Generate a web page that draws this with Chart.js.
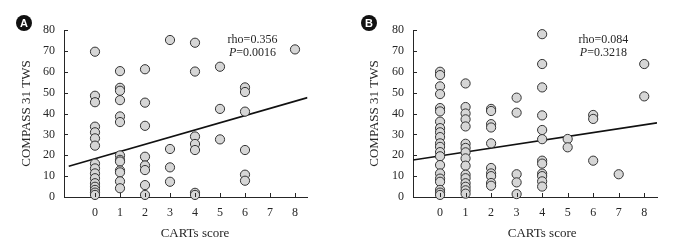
<!DOCTYPE html>
<html>
<head>
<meta charset="utf-8">
<script src="https://cdn.jsdelivr.net/npm/chart.js@4.4.1/dist/chart.umd.min.js"></script>
<style>
  html, body { margin: 0; padding: 0; background: #fff; }
  .panel { position: absolute; top: 0; width: 338px; height: 251px; }
</style>
</head>
<body>
<div class="panel" style="left:0"><canvas id="chartA" width="338" height="251"></canvas></div>
<div class="panel" style="left:338px"><canvas id="chartB" width="338" height="251"></canvas></div>
<script>
// CARTs score categories and tick labels
const xTicks = [0, 1, 2, 3, 4, 5, 6, 7, 8];
const yTicks = [0, 10, 20, 30, 40, 50, 60, 70, 80];

// Panel A: COMPASS 31 TWS values per CARTs score
const scoresA = [0, 1, 2, 3, 4, 5, 6, 8];
const twsA = [
  [69.6, 48.5, 45.4, 33.7, 31, 28.1, 24.6, 16, 13.7, 11.3, 9, 6.6, 4.9, 3.4, 2.1, 1],
  [60.3, 52.3, 50.9, 46.4, 38.6, 35.9, 19.9, 17.8, 17, 12.7, 11.8, 7.5, 4.2],
  [61.2, 45.2, 34.1, 19.3, 15.1, 12.9, 5.7, 1],
  [75.2, 23, 14.2, 7.3],
  [73.9, 60.1, 29, 25.4, 22.5, 2, 1],
  [62.4, 42.2, 27.6],
  [52.5, 50.3, 40.9, 22.5, 10.7, 7.8],
  [70.7]
];
const trendA = [[-1.05, 14.7], [8.5, 47.6]];

// Panel B
const scoresB = [0, 1, 2, 3, 4, 5, 6, 7, 8];
const twsB = [
  [60, 58.4, 53, 49.3, 42.6, 41, 36.1, 33, 31, 28.7, 25.7, 24, 21.5, 19.5, 15.3, 11.3, 8.8, 7.3, 3.4, 2.1, 1],
  [54.4, 43.1, 40, 37.2, 33.8, 25.5, 23.5, 21.4, 18.5, 15, 10.7, 9, 6.6, 4.9, 3.2, 1.6],
  [42.2, 41.2, 34.9, 33.3, 25.7, 13.9, 11.3, 10, 6.7, 5.4],
  [47.6, 40.4, 10.9, 7, 1.4],
  [78, 63.7, 52.5, 39.1, 32.1, 27.7, 17.4, 16, 11.2, 10, 7.5, 5],
  [27.8, 23.8],
  [39.3, 37.4, 17.4],
  [10.9],
  [63.7, 48.2]
];
const trendB = [[-1.06, 17.7], [8.5, 35.5]];

const ink = '#262626';
const serif = '"Liberation Serif", "DejaVu Serif", serif';

// inward tick marks, axis titles, panel letter and rho/P text
const decor = {
  id: 'decor',
  afterDraw(chart, args, o) {
    const { ctx, chartArea: a, scales: { x, y } } = chart;
    ctx.save();
    ctx.strokeStyle = ink;
    ctx.lineWidth = 1;
    ctx.beginPath();
    x.ticks.forEach(t => {
      const px = Math.round(x.getPixelForValue(t.value)) + 0.5;
      ctx.moveTo(px, a.bottom);
      ctx.lineTo(px, a.bottom - 4);
    });
    y.ticks.forEach(t => {
      const py = Math.round(y.getPixelForValue(t.value)) + 0.5;
      ctx.moveTo(a.left, py);
      ctx.lineTo(a.left + 4, py);
    });
    ctx.stroke();

    ctx.fillStyle = ink;
    ctx.font = '13px ' + serif;
    ctx.textAlign = 'center';
    ctx.textBaseline = 'middle';
    ctx.fillText('CARTs score', x.getPixelForValue(4), 234);
    ctx.save();
    ctx.translate(a.left - o.yTitleGap, (a.top + a.bottom) / 2);
    ctx.rotate(-Math.PI / 2);
    ctx.fillText('COMPASS 31 TWS', 0, 0);
    ctx.restore();

    // panel letter
    ctx.beginPath();
    ctx.arc(o.letterX, 23, 8, 0, Math.PI * 2);
    ctx.fillStyle = '#111';
    ctx.fill();
    ctx.fillStyle = '#fff';
    ctx.font = 'bold 11px "Liberation Sans", Arial, sans-serif';
    ctx.fillText(o.letter, o.letterX, 23.5);

    // stats
    ctx.fillStyle = ink;
    ctx.font = '12px ' + serif;
    const cx = x.getPixelForValue(o.statX);
    ctx.fillText('rho=' + o.rho, cx, 40);
    const pPart = 'P', rest = '=' + o.p;
    ctx.font = 'italic 12px ' + serif;
    const wP = ctx.measureText(pPart).width;
    ctx.font = '12px ' + serif;
    const wR = ctx.measureText(rest).width;
    const start = cx - (wP + wR) / 2;
    ctx.textAlign = 'left';
    ctx.font = 'italic 12px ' + serif;
    ctx.fillText(pPart, start, 53);
    ctx.font = '12px ' + serif;
    ctx.fillText(rest, start + wP, 53);
    ctx.restore();
  }
};

function makeChart(id, scores, tws, trend, xMin, yAxisWidth, padRight, deco) {
  const points = [];
  scores.forEach((s, i) => tws[i].forEach(v => points.push({ x: s, y: v })));
  return new Chart(document.getElementById(id), {
    type: 'scatter',
    data: {
      datasets: [
        {
          data: points,
          backgroundColor: '#d6d6d6',
          borderColor: '#333',
          borderWidth: 1,
          pointRadius: 4.6,
          clip: false,
          order: 1
        },
        {
          type: 'line',
          data: trend.map(p => ({ x: p[0], y: p[1] })),
          borderColor: '#111',
          borderWidth: 1.6,
          pointRadius: 0,
          fill: false,
          order: 2
        }
      ]
    },
    options: {
      responsive: false,
      animation: false,
      layout: { padding: { top: 30, right: padRight, left: 0, bottom: 0 } },
      scales: {
        x: {
          type: 'linear',
          min: xMin,
          max: 8.5,
          afterBuildTicks: s => { s.ticks = xTicks.map(v => ({ value: v })); },
          afterFit: s => { s.height = 54; },
          grid: { display: false, drawTicks: false },
          border: { color: ink, width: 1 },
          ticks: { padding: 9, color: ink, font: { family: serif, size: 12 } }
        },
        y: {
          min: 0,
          max: 80,
          afterBuildTicks: s => { s.ticks = yTicks.map(v => ({ value: v })); },
          afterFit: s => { s.width = yAxisWidth; },
          grid: { display: false, drawTicks: false },
          border: { color: ink, width: 1 },
          ticks: { padding: 9, color: ink, font: { family: serif, size: 12 } }
        }
      },
      plugins: {
        legend: { display: false },
        tooltip: { enabled: false },
        decor: deco
      }
    },
    plugins: [decor]
  });
}

makeChart('chartA', scoresA, twsA, trendA, -1.24, 64, 30.5,
  { letter: 'A', letterX: 24, yTitleGap: 37, statX: 6.3, rho: '0.356', p: '0.0016' });
makeChart('chartB', scoresB, twsB, trendB, -1.06, 75, 19,
  { letter: 'B', letterX: 31, yTitleGap: 38, statX: 6.4, rho: '0.084', p: '0.3218' });
</script>
</body>
</html>
